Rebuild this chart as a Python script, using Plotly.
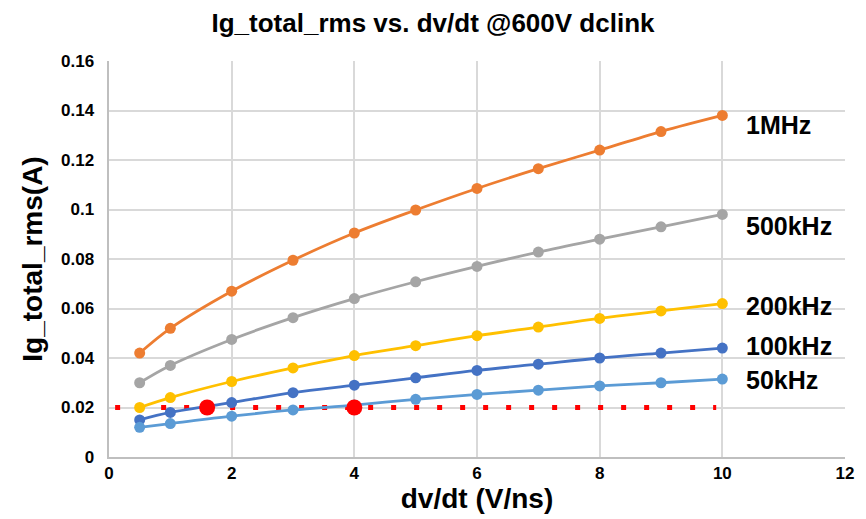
import plotly.graph_objects as go

dvdt = [0.5, 1, 2, 3, 4, 5, 6, 7, 8, 9, 10]
series_names = ["1MHz", "500kHz", "200kHz", "100kHz", "50kHz"]
ig_1mhz = [0.042, 0.052, 0.067, 0.0795, 0.0905, 0.0998, 0.1085, 0.1165, 0.124, 0.1315, 0.138]
ig_500k = [0.030, 0.037, 0.0475, 0.0563, 0.064, 0.0708, 0.077, 0.0828, 0.088, 0.093, 0.098]
ig_200k = [0.020, 0.024, 0.0305, 0.036, 0.041, 0.045, 0.049, 0.0525, 0.056, 0.059, 0.062]
ig_100k = [0.015, 0.018, 0.022, 0.026, 0.029, 0.032, 0.035, 0.0375, 0.040, 0.042, 0.044]
ig_50k = [0.012, 0.0135, 0.0165, 0.019, 0.021, 0.0233, 0.0253, 0.027, 0.0287, 0.030, 0.0315]
label_y = [0.134, 0.0935, 0.061, 0.045, 0.031]

limit_x = [0.1, 9.9]
limit_y = [0.02, 0.02]
cross_x = [1.6, 4.0]
cross_y = [0.02, 0.02]

colors = ["#ED7D31", "#A5A5A5", "#FFC000", "#4472C4", "#5B9BD5"]
data = [ig_1mhz, ig_500k, ig_200k, ig_100k, ig_50k]

fig = go.Figure()
fig.add_trace(go.Scatter(x=limit_x, y=limit_y, mode="lines",
                         line=dict(color="#FF0000", width=5, dash="5px,18px"), showlegend=False))
for name, ys, c in zip(series_names, data, colors):
    fig.add_trace(go.Scatter(x=dvdt, y=ys, mode="lines+markers", name=name,
                             line=dict(color=c, width=2.8, shape="spline"),
                             marker=dict(color=c, size=11), showlegend=False))
fig.add_trace(go.Scatter(x=cross_x, y=cross_y, mode="markers",
                         marker=dict(color="#FF0000", size=16), showlegend=False))

for name, ly in zip(series_names, label_y):
    fig.add_annotation(x=10.35, y=ly, text="<b>" + name + "</b>", showarrow=False, xanchor="left",
                       yanchor="middle", font=dict(size=25, color="black", family="Liberation Sans"))

fig.update_layout(
    width=866, height=519,
    margin=dict(l=109, r=14, t=61, b=62),
    plot_bgcolor="white", paper_bgcolor="white",
    font=dict(family="Liberation Sans", color="black"),
    title=dict(text="<b>Ig_total_rms vs. dv/dt @600V dclink</b>", x=0.5, xanchor="center",
               y=0.955, yanchor="middle", font=dict(size=26, color="black")),
)
fig.update_xaxes(range=[0, 12], dtick=2, tickformat="d",
                 showgrid=True, gridcolor="#D9D9D9", gridwidth=1.5,
                 showline=True, linecolor="#BFBFBF", linewidth=2, mirror=False,
                 zeroline=False, ticks="",
                 tickfont=dict(size=17, family="Liberation Sans", color="black"),
                 title=dict(text="<b>dv/dt (V/ns)</b>", font=dict(size=28), standoff=1))
fig.update_yaxes(range=[0, 0.16], dtick=0.02, tickformat="~g",
                 showgrid=True, gridcolor="#D9D9D9", gridwidth=1.5,
                 showline=True, linecolor="#BFBFBF", linewidth=2,
                 zeroline=False, ticks="",
                 tickfont=dict(size=17, family="Liberation Sans", color="black"),
                 title=dict(text="<b>Ig_total_rms(A)</b>", font=dict(size=28), standoff=10))
fig.update_xaxes(tickprefix="<b>", ticksuffix="</b>")
fig.update_yaxes(tickprefix="<b>", ticksuffix="</b>  ")
fig.write_html("out.html")
